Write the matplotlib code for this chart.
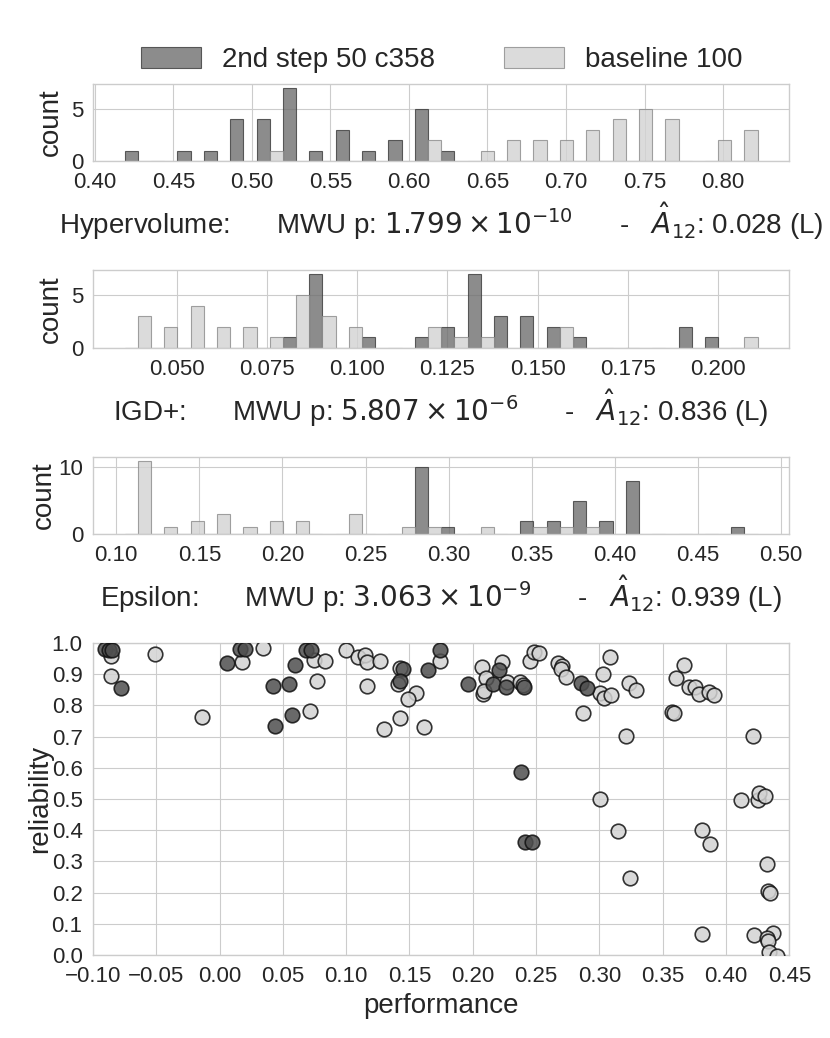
import numpy as np
import matplotlib
matplotlib.use('Agg')
import matplotlib.pyplot as plt

plt.style.use('seaborn-v0_8-whitegrid')
plt.rcParams['font.family'] = ['Liberation Sans', 'DejaVu Sans']
plt.rcParams['mathtext.fontset'] = 'dejavusans'

labels = ['2nd step 50 c358', 'baseline 100']

# histogram counts (24 bins each, side by side per bin)
hv_range = (0.419, 0.822)
hv_step = [1, 0, 1, 1, 4, 4, 7, 1, 3, 1, 2, 5, 1, 0, 0, 0, 0, 0, 0, 0, 0, 0, 0, 0]
hv_base = [0, 0, 0, 0, 0, 1, 0, 0, 0, 0, 0, 2, 0, 1, 2, 2, 2, 3, 4, 5, 4, 0, 2, 3]

igd_range = (0.0355, 0.211)
igd_step = [0, 0, 0, 0, 0, 0, 1, 7, 0, 1, 0, 1, 2, 7, 3, 3, 2, 1, 0, 0, 0, 2, 1, 0]
igd_base = [3, 2, 4, 2, 2, 1, 5, 3, 2, 0, 0, 2, 1, 1, 0, 0, 2, 0, 0, 0, 0, 0, 0, 1]

eps_range = (0.105, 0.486)
eps_step = [0, 0, 0, 0, 0, 0, 0, 0, 0, 0, 0, 10, 1, 0, 0, 2, 2, 5, 2, 8, 0, 0, 0, 1]
eps_base = [11, 1, 2, 3, 1, 2, 2, 0, 3, 0, 1, 1, 0, 1, 0, 1, 1, 1, 0, 0, 0, 0, 0, 0]

hist_titles = [
    'Hypervolume:      MWU p: $1.799 \\times 10^{-10}$      -   $\\hat{A}_{12}$: 0.028 (L)',
    'IGD+:      MWU p: $5.807 \\times 10^{-6}$      -   $\\hat{A}_{12}$: 0.836 (L)',
    'Epsilon:      MWU p: $3.063 \\times 10^{-9}$      -   $\\hat{A}_{12}$: 0.939 (L)',
]
hv_ticks = [0.40, 0.45, 0.50, 0.55, 0.60, 0.65, 0.70, 0.75, 0.80]
igd_ticks = [0.050, 0.075, 0.100, 0.125, 0.150, 0.175, 0.200]
eps_ticks = [0.10, 0.15, 0.20, 0.25, 0.30, 0.35, 0.40, 0.45, 0.50]

# scatter: performance vs reliability
base_perf = [-0.0855, -0.0855, -0.0509, -0.0142, 0.018, 0.0341, 0.0715, 0.0746, 0.0833, 0.0766,
             0.0999, 0.1093, 0.1145, 0.1164, 0.127, 0.1164, 0.1299, 0.1427, 0.1409, 0.1552,
             0.149, 0.1427, 0.1614, 0.1738, 0.2071, 0.2229, 0.2103, 0.2079, 0.2085, 0.2269,
             0.2375, 0.2400, 0.2453, 0.2484, 0.2526, 0.2676, 0.2703, 0.2697, 0.2737, 0.2869,
             0.3006, 0.3037, 0.309, 0.3032, 0.308, 0.3211, 0.3235, 0.329, 0.3577, 0.359,
             0.3606, 0.3671, 0.3711, 0.3756, 0.379, 0.3869, 0.3906, 0.4212, 0.3006, 0.412,
             0.4256, 0.4264, 0.431, 0.3145, 0.3809, 0.3874, 0.4327, 0.4335, 0.4348, 0.3814,
             0.4224, 0.437, 0.4322, 0.433, 0.4343, 0.44, 0.3243]
base_rel = [0.959, 0.894, 0.964, 0.764, 0.94, 0.985, 0.783, 0.946, 0.942, 0.879,
            0.978, 0.956, 0.962, 0.94, 0.942, 0.862, 0.724, 0.921, 0.868, 0.841,
            0.82, 0.758, 0.73, 0.942, 0.924, 0.94, 0.887, 0.835, 0.845, 0.876,
            0.876, 0.866, 0.942, 0.97, 0.967, 0.935, 0.925, 0.915, 0.892, 0.775,
            0.839, 0.823, 0.833, 0.90, 0.956, 0.702, 0.871, 0.849, 0.778, 0.775,
            0.887, 0.929, 0.86, 0.858, 0.837, 0.844, 0.833, 0.703, 0.50, 0.497,
            0.497, 0.518, 0.51, 0.397, 0.40, 0.355, 0.292, 0.205, 0.20, 0.066,
            0.064, 0.069, 0.055, 0.045, 0.011, -0.003, 0.248]

step_perf = [-0.0904, -0.0877, -0.085, -0.0778, 0.0057, 0.0162, 0.0201, 0.042, 0.0438, 0.0549,
             0.0575, 0.0596, 0.0683, 0.072, 0.1448, 0.1422, 0.165, 0.1738, 0.196, 0.2208,
             0.2163, 0.2261, 0.2401, 0.2855, 0.29, 0.2382, 0.2413, 0.2466]
step_rel = [0.981, 0.978, 0.978, 0.857, 0.935, 0.981, 0.981, 0.863, 0.735, 0.867,
            0.769, 0.929, 0.978, 0.978, 0.916, 0.878, 0.913, 0.978, 0.869, 0.913,
            0.869, 0.858, 0.858, 0.871, 0.855, 0.587, 0.363, 0.363]

hist_fc = ['#6f6f6f', '#d3d3d3']
hist_ec = ['#3a3a3a', '#8a8a8a']

fig = plt.figure(figsize=(8.3, 10.38), dpi=100)
L, W = 0.112, 0.839
hist_axes = [fig.add_axes([L, 0.8449, W, 0.0742]),
             fig.add_axes([L, 0.6647, W, 0.0751]),
             fig.add_axes([L, 0.4855, W, 0.0742])]
sc_ax = fig.add_axes([L, 0.0800, W, 0.3006])

hist_data = [(hv_range, hv_step, hv_base, hv_ticks, '%.2f'),
             (igd_range, igd_step, igd_base, igd_ticks, '%.3f'),
             (eps_range, eps_step, eps_base, eps_ticks, '%.2f')]
ylabel_x = [-0.042, -0.042, -0.052]

for ax, (rng, s, b, ticks, fmt), title, lx in zip(hist_axes, hist_data, hist_titles, ylabel_x):
    edges = np.linspace(rng[0], rng[1], len(s) + 1)
    centers = (edges[:-1] + edges[1:]) / 2
    n, bins, conts = ax.hist([centers, centers], bins=edges, weights=[s, b],
                             rwidth=1.0, color=hist_fc, alpha=0.8, label=labels)
    for cont, ec in zip(conts, hist_ec):
        for p in cont:
            p.set_edgecolor(ec)
            p.set_linewidth(0.8)
    ax.set_xticks(ticks)
    ax.set_xticklabels([fmt % t for t in ticks])
    ax.set_ylabel('count', fontsize=20)
    ax.yaxis.set_label_coords(lx, 0.5)
    ax.set_xlabel(title, fontsize=20, labelpad=5)
    ax.tick_params(axis='x', labelsize=16, pad=8)
    ax.tick_params(axis='y', labelsize=16, pad=7)

hist_axes[0].set_yticks([0, 5])
hist_axes[1].set_yticks([0, 5])
hist_axes[2].set_yticks([0, 10])

handles, lbls = hist_axes[0].get_legend_handles_labels()
fig.legend(handles, lbls, loc='center', bbox_to_anchor=(0.532, 0.942), ncol=2,
           frameon=False, fontsize=20, handlelength=2.15, handleheight=0.8,
           handletextpad=0.75, columnspacing=2.5)

sc_ax.scatter(base_perf, base_rel, s=110, c='#d3d3d3', edgecolors='#111111',
              linewidths=1.2, alpha=0.85, zorder=3)
sc_ax.scatter(step_perf, step_rel, s=110, c='#4f4f4f', edgecolors='#111111',
              linewidths=1.2, alpha=0.85, zorder=3)
sc_ax.set_xlim(-0.10, 0.45)
sc_ax.set_ylim(0.0, 1.0)
xt = np.arange(-0.10, 0.451, 0.05)
sc_ax.set_xticks(xt)
sc_ax.set_xticklabels([('%.2f' % t).replace('-', '\u2212') if abs(t) > 1e-9 else '0.00'
                       for t in xt])
yt = np.arange(0, 1.01, 0.1)
sc_ax.set_yticks(yt)
sc_ax.set_yticklabels(['%.1f' % t for t in yt])
sc_ax.set_xlabel('performance', fontsize=20, labelpad=4)
sc_ax.set_ylabel('reliability', fontsize=20)
sc_ax.yaxis.set_label_coords(-0.057, 0.5)
sc_ax.tick_params(axis='x', labelsize=16, pad=8)
sc_ax.tick_params(axis='y', labelsize=16, pad=7.5)

plt.savefig('out.png', dpi=100)
